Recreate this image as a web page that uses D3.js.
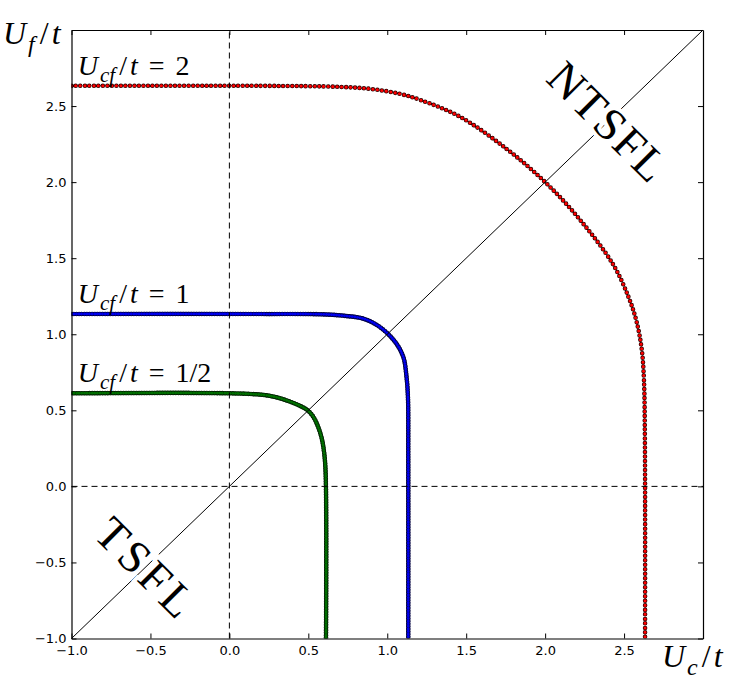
<!DOCTYPE html>
<html>
<head>
<meta charset="utf-8">
<script src="https://cdn.jsdelivr.net/npm/d3@7"></script>
<style>
	body { margin: 0; background: #fff; }
	.tick text { font-family: "DejaVu Sans", sans-serif; font-size: 13px; fill: #000; }
	.math { font-family: "Liberation Serif", serif; fill: #000; }
</style>
</head>
<body>
<div id="chart"></div>
<script>
// axis ticks
var xTicks = [-1, -0.5, 0, 0.5, 1, 1.5, 2, 2.5];
var yTicks = [-1, -0.5, 0, 0.5, 1, 1.5, 2, 2.5];

// U_cf/t = 2 (red)
var redUc = [-1, 0.2, 0.7, 0.9, 1.08, 1.21, 1.46, 1.76, 2.0, 2.215, 2.43, 2.53, 2.58, 2.612, 2.626, 2.632, 2.633];
var redUf = [2.633, 2.633, 2.626, 2.612, 2.58, 2.54, 2.43, 2.215, 2.0, 1.76, 1.46, 1.24, 1.08, 0.9, 0.7, 0.3, -1];

// U_cf/t = 1 (blue)
var blueUc = [-1, 0.2, 0.59, 0.72, 0.85, 0.95, 1.05, 1.102, 1.122, 1.131, 1.133, 1.133];
var blueUf = [1.133, 1.133, 1.131, 1.122, 1.102, 1.05, 0.95, 0.85, 0.72, 0.59, 0.2, -1];

// U_cf/t = 1/2 (green)
var greenUc = [-1, 0.0, 0.215, 0.3, 0.384, 0.45, 0.494, 0.53, 0.557, 0.584, 0.601, 0.61, 0.612];
var greenUf = [0.612, 0.612, 0.601, 0.585, 0.557, 0.528, 0.502, 0.46, 0.405, 0.32, 0.215, 0.08, -1];

(function() {
	var width = 730, height = 685;

	var svg = d3.select("#chart")
				.append("svg")
				.attr("width", width)
				.attr("height", height);

	var x = d3.scaleLinear().domain([-1, 3]).range([71.5, 703]);
	var y = d3.scaleLinear().domain([-1, 3]).range([638.5, 30]);

	var plot = svg.append("g");

	plot.append("clipPath").attr("id", "clip")
		.append("rect")
		.attr("x", x(-1)).attr("y", y(3))
		.attr("width", x(3) - x(-1)).attr("height", y(-1) - y(3));

	var line = d3.line()
				.x(d => x(d[0]))
				.y(d => y(d[1]))
				.curve(d3.curveCatmullRom.alpha(0.5));

	// curves drawn as packed markers: dark edge first, fill on top
	var curves = [
		{ uc: redUc, uf: redUf, edge: "#2a0000", fill: "#ff0000", gap: 4.5, w: 4.6, wi: 3.1, base: false },
		{ uc: blueUc, uf: blueUf, edge: "#000040", fill: "#0000f0", gap: 2.6, w: 4.6, wi: 2.8, base: true },
		{ uc: greenUc, uf: greenUf, edge: "#002000", fill: "#007000", gap: 2.6, w: 4.6, wi: 2.8, base: true }
	];

	curves.forEach(function(c) {
		var pts = d3.zip(c.uc, c.uf);
		var g = plot.append("g").attr("clip-path", "url(#clip)");
		if (c.base) {
			g.append("path").attr("d", line(pts))
				.attr("fill", "none").attr("stroke", c.edge)
				.attr("stroke-width", c.w - 0.4).attr("opacity", 0.8);
		}
		g.append("path").attr("d", line(pts))
			.attr("fill", "none").attr("stroke", c.edge)
			.attr("stroke-width", c.w)
			.attr("stroke-linecap", "round")
			.attr("stroke-dasharray", "0 " + c.gap);
		g.append("path").attr("d", line(pts))
			.attr("fill", "none").attr("stroke", c.fill)
			.attr("stroke-width", c.wi)
			.attr("stroke-linecap", "round")
			.attr("stroke-dasharray", "0 " + c.gap);
	});

	// diagonal and zero lines
	plot.append("line")
		.attr("x1", x(-1)).attr("y1", y(-1))
		.attr("x2", x(3)).attr("y2", y(3))
		.attr("stroke", "#000").attr("stroke-width", 1);

	plot.append("line")
		.attr("x1", x(0)).attr("y1", y(-1))
		.attr("x2", x(0)).attr("y2", y(3))
		.attr("stroke", "#000").attr("stroke-width", 1)
		.attr("stroke-dasharray", "6,4");

	plot.append("line")
		.attr("x1", x(-1)).attr("y1", y(0))
		.attr("x2", x(3)).attr("y2", y(0))
		.attr("stroke", "#000").attr("stroke-width", 1)
		.attr("stroke-dasharray", "6,4");

	// phase labels along the diagonal
	var phases = [
		{ t: "NTSFL", at: 2.4, len: 148 },
		{ t: "TSFL", at: -0.53, len: 120 }
	];
	svg.selectAll(".phase")
		.data(phases)
		.enter().append("text")
		.attr("class", "phase math")
		.attr("transform", d => "translate(" + x(d.at) + "," + y(d.at) + ") rotate(45)")
		.attr("text-anchor", "middle")
		.attr("dy", "0.35em")
		.attr("font-size", 46)
		.attr("textLength", d => d.len)
		.attr("lengthAdjust", "spacing")
		.attr("stroke", "#fff").attr("stroke-width", 8)
		.attr("paint-order", "stroke")
		.text(d => d.t);

	// axes, inward ticks on all four sides
	var fmt = d3.format(".1f");
	svg.append("g")
		.attr("transform", "translate(0," + y(-1) + ")")
		.call(d3.axisBottom(x).tickValues(xTicks).tickFormat(fmt).tickSizeInner(-5).tickSizeOuter(0).tickPadding(7));
	svg.append("g")
		.attr("transform", "translate(" + x(-1) + ",0)")
		.call(d3.axisLeft(y).tickValues(yTicks).tickFormat(fmt).tickSizeInner(-5).tickSizeOuter(0).tickPadding(5));
	svg.append("g")
		.attr("transform", "translate(0," + y(3) + ")")
		.call(d3.axisTop(x).tickValues(xTicks).tickFormat("").tickSizeInner(-5).tickSizeOuter(0));
	svg.append("g")
		.attr("transform", "translate(" + x(3) + ",0)")
		.call(d3.axisRight(y).tickValues(yTicks).tickFormat("").tickSizeInner(-5).tickSizeOuter(0));
	svg.selectAll(".domain").attr("stroke", "#000").attr("stroke-width", 1.2);

	// math text helper: parts of [text, italic, subscript, back-up, dx]
	function mathText(px, py, size, parts) {
		var t = svg.append("text").attr("class", "math")
					.attr("x", px).attr("y", py)
					.attr("font-size", size);
		parts.forEach(function(p) {
			var s = t.append("tspan").text(p[0])
						.attr("font-style", p[1] ? "italic" : "normal");
			if (p[2]) {
				s.attr("font-size", size * 0.75).attr("dy", size * 0.24).attr("dx", 2);
			}
			if (p[3]) s.attr("dy", -size * 0.24).attr("dx", p[4] || 0);
			else if (p[4]) s.attr("dx", p[4]);
		});
		return t;
	}

	mathText(3, 44, 32, [["U", true], ["f", true, true], ["/", false, false, true, 5], ["t", true, false, false, 3]]);
	mathText(662, 667, 32, [["U", true], ["c", true, true], ["/", false, false, true, 4], ["t", true, false, false, 3]]);

	var curveLabels = [
		{ val: "2", y0: 2.633 },
		{ val: "1", y0: 1.133 },
		{ val: "1/2", y0: 0.612 }
	];
	curveLabels.forEach(function(c) {
		mathText(x(-0.96), y(c.y0) - 11, 28, [
			["U", true], ["cf", true, true], ["/", false, false, true, 4],
			["t", true, false, false, 3], ["=", false, false, false, 11], [c.val, false, false, false, 11]
		]);
	});
})();
</script>
</body>
</html>
